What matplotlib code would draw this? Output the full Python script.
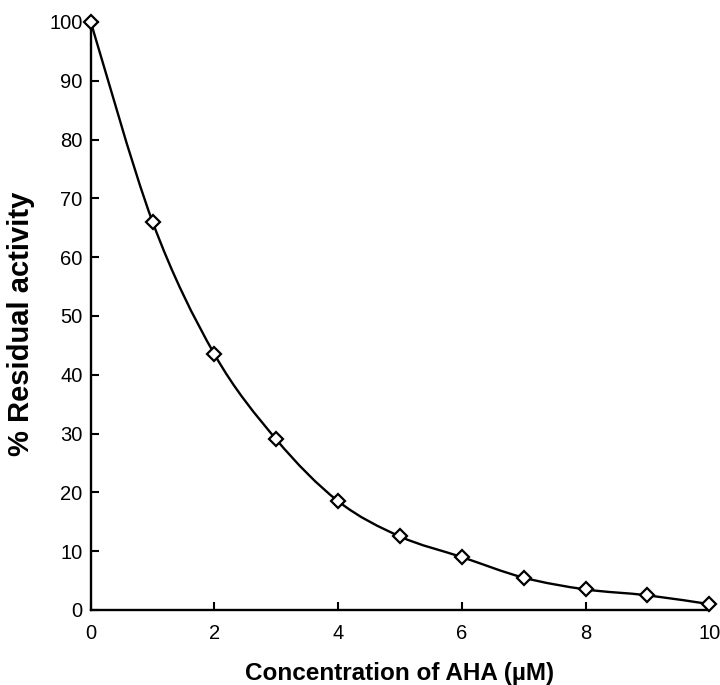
import matplotlib.pyplot as plt
from matplotlib.path import Path
from matplotlib.patches import PathPatch

conc = [0, 1, 2, 3, 4, 5, 6, 7, 8, 9, 10]
activity = [100, 66, 43.5, 29, 18.5, 12.5, 9, 5.5, 3.5, 2.5, 1]

plt.rcParams['font.family'] = ['Liberation Sans', 'DejaVu Sans']

fig = plt.figure(figsize=(7.2, 6.85), dpi=100)
ax = fig.add_axes([0.126, 0.1095, 0.859, 0.8585])


def smooth_path(xs, ys, t=1 / 6):
    # cubic bezier through every point, like a spreadsheet "smoothed line"
    verts = [(xs[0], ys[0])]
    codes = [Path.MOVETO]
    n = len(xs)
    for i in range(n - 1):
        x0, y0 = xs[max(i - 1, 0)], ys[max(i - 1, 0)]
        x1, y1 = xs[i], ys[i]
        x2, y2 = xs[i + 1], ys[i + 1]
        x3, y3 = xs[min(i + 2, n - 1)], ys[min(i + 2, n - 1)]
        c1 = (x1 + (x2 - x0) * t, y1 + (y2 - y0) * t)
        c2 = (x2 - (x3 - x1) * t, y2 - (y3 - y1) * t)
        verts += [c1, c2, (x2, y2)]
        codes += [Path.CURVE4] * 3
    return Path(verts, codes)


ax.add_patch(PathPatch(smooth_path(conc, activity), fill=False,
                       edgecolor='black', linewidth=1.7, zorder=2))
ax.plot(conc, activity, linestyle='none', marker='D', markersize=7.5,
        markerfacecolor='white', markeredgecolor='black',
        markeredgewidth=1.6, zorder=3, clip_on=False)

ax.set_xlim(0, 10)
ax.set_ylim(0, 100)
ax.set_xticks(range(0, 11, 2))
ax.set_yticks(range(0, 101, 10))
ax.spines['top'].set_visible(False)
ax.spines['right'].set_visible(False)
for s in ('left', 'bottom'):
    ax.spines[s].set_linewidth(1.7)
ax.tick_params(direction='in', length=6, width=1.5, labelsize=14.5, pad=6)
ax.tick_params(axis='x', pad=10)

ax.set_xlabel('Concentration of AHA (µM)', fontsize=17.5, fontweight='bold',
              labelpad=14)
ax.set_ylabel('% Residual activity', fontsize=21, fontweight='bold',
              labelpad=10)
ax.yaxis.label.set_y(0.486)

fig.savefig('out.png', dpi=100)
